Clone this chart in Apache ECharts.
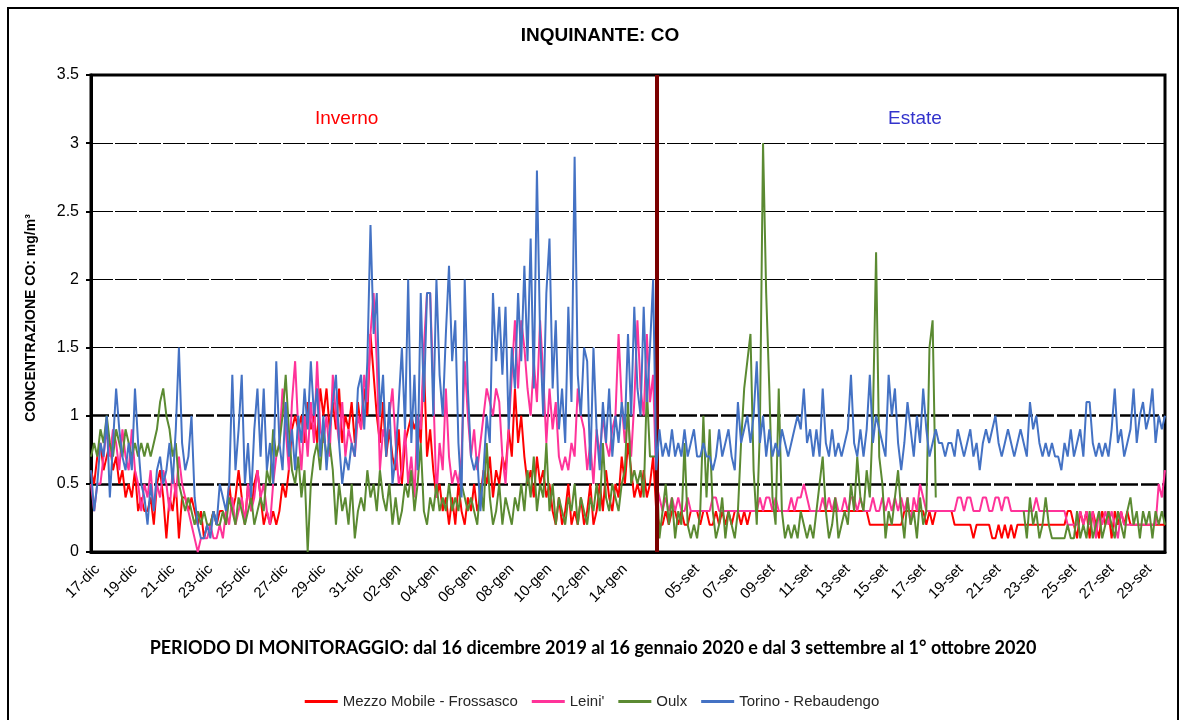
<!DOCTYPE html>
<html><head><meta charset="utf-8">
<script src="https://cdn.jsdelivr.net/npm/echarts@6/dist/echarts.min.js"></script>
<style>html,body{margin:0;padding:0;background:#fff}#c{width:1184px;height:720px}</style>
</head><body><div id="c"></div><script>
// ---- categories (4-hour samples) ----
const winterDays = ['16-dic','17-dic','18-dic','19-dic','20-dic','21-dic','22-dic','23-dic','24-dic','25-dic','26-dic','27-dic','28-dic','29-dic','30-dic','31-dic',
  '01-gen','02-gen','03-gen','04-gen','05-gen','06-gen','07-gen','08-gen','09-gen','10-gen','11-gen','12-gen','13-gen','14-gen','15-gen'];
const summerDays = ['02-set','03-set','04-set','05-set','06-set','07-set','08-set','09-set','10-set','11-set','12-set','13-set','14-set','15-set',
  '16-set','17-set','18-set','19-set','20-set','21-set','22-set','23-set','24-set','25-set','26-set','27-set','28-set','29-set'];
const hours = ['00','04','08','12','16','20'];
const winterTickLabels = ['17-dic','19-dic','21-dic','23-dic','25-dic','27-dic','29-dic','31-dic','02-gen','04-gen','06-gen','08-gen','10-gen','12-gen','14-gen'];
const summerTickLabels = ['05-set','07-set','09-set','11-set','13-set','15-set','17-set','19-set','21-set','23-set','25-set','27-set','29-set'];
const seriesNames = ['Mezzo Mobile - Frossasco', "Leini'", 'Oulx', 'Torino - Rebaudengo'];
const yTicks = [0, 0.5, 1, 1.5, 2, 2.5, 3, 3.5];

// ---- values, mg/m3 (winter: 180 samples, summer: 163 samples) ----
const frossascoWinter = [
0.6,0.5,0.7,0.8,0.6,0.7, 0.8,0.6,0.7,0.5,0.6,0.4, 0.5,0.4,0.6,0.3,0.4,0.3, 0.3,0.4,0.2,0.5,0.6,0.4, 0.1,0.4,0.3,0.5,0.1,0.4,
0.4,0.3,0.4,0.3,0.2,0.3, 0.1,0.2,0.2,0.3,0.2,0.3, 0.3,0.2,0.5,0.3,0.4,0.6, 0.4,0.2,0.5,0.3,0.5,0.6, 0.4,0.2,0.3,0.2,0.3,0.2,
0.3,0.5,0.4,0.6,0.9,1.0, 0.9,1.0,0.8,1.1,0.9,1.0, 0.8,1.2,1.0,1.2,0.9,1.1, 0.9,1.2,0.8,1.0,0.9,1.1, 0.8,1.1,0.9,1.2,1.0,1.6,
1.3,1.0,0.8,1.1,0.7,0.9, 0.7,0.6,0.9,0.5,0.8,0.9, 1.0,0.9,1.0,0.8,1.4,0.7, 0.9,0.6,0.4,0.5,0.3,0.4, 0.2,0.4,0.2,0.5,0.3,0.2,
0.4,0.3,0.5,0.3,0.4,0.6, 0.5,0.7,0.4,0.6,0.5,0.7, 0.6,0.9,0.7,1.2,0.8,1.0, 0.7,0.5,0.6,0.4,0.7,0.5, 0.6,0.4,0.5,0.3,0.2,0.4,
0.2,0.3,0.5,0.2,0.3,0.2, 0.4,0.2,0.3,0.5,0.2,0.3, 0.5,0.3,0.6,0.4,0.3,0.5, 0.4,0.7,0.5,0.8,0.6,0.4, 0.5,0.4,0.6,0.4,0.5,0.7];
const leiniWinter = [
0.5,0.3,0.5,0.5,0.7,0.9, 0.7,0.9,0.8,0.6,0.9,0.7, 0.6,0.9,0.6,0.5,0.3,0.5, 0.4,0.6,0.3,0.5,0.4,0.6, 0.5,0.3,0.6,0.4,0.7,0.5,
0.4,0.3,0.2,0.1,0.0,0.1, 0.1,0.1,0.2,0.1,0.1,0.2, 0.1,0.3,0.2,0.4,0.2,0.3, 0.4,0.2,0.5,0.3,0.4,0.6, 0.4,0.5,0.3,0.2,0.5,0.7,
0.8,1.2,0.9,0.6,1.1,1.4, 0.9,0.6,1.0,0.7,1.1,0.8, 1.4,0.9,0.8,1.0,0.7,1.3, 1.0,0.8,1.1,0.7,0.9,0.8, 0.7,1.0,0.9,1.3,1.1,1.6,
1.9,1.4,0.6,0.9,0.8,1.0, 1.2,0.8,0.5,0.6,0.9,0.5, 0.7,0.4,1.0,0.9,1.5,1.9, 1.9,1.2,0.4,0.8,0.6,1.2, 0.7,0.5,0.6,0.5,0.7,1.4,
1.0,0.7,0.9,0.6,0.8,1.0, 1.2,1.1,1.0,1.2,1.1,0.7, 0.5,0.9,1.3,1.7,1.2,1.7, 1.5,1.2,1.0,1.4,1.1,1.7, 1.3,0.8,1.2,0.9,1.1,0.7,
0.6,0.7,0.6,0.8,0.7,1.2, 1.0,0.9,0.6,0.8,0.5,0.9, 0.7,1.0,0.8,0.7,0.9,1.0, 1.6,1.1,0.8,1.0,0.7,1.1, 1.7,1.2,1.0,1.6,1.1,1.3];
const oulxWinter = [
0.7,0.8,0.7,0.9,0.8,1.0, 0.8,0.7,0.9,0.8,0.7,0.9, 0.8,0.7,0.8,0.7,0.8,0.7, 0.8,0.7,0.8,0.9,1.1,1.2, 1.0,0.9,0.7,0.8,0.5,0.4,
0.3,0.4,0.3,0.2,0.3,0.2, 0.3,0.2,0.2,0.3,0.2,0.2, 0.3,0.2,0.4,0.3,0.2,0.4, 0.3,0.2,0.3,0.4,0.2,0.3, 0.4,0.3,0.6,0.5,0.9,0.7,
0.8,1.0,1.3,0.9,0.6,0.5, 0.7,0.4,0.6,0.0,0.5,0.7, 0.8,0.6,0.9,0.7,0.8,0.6, 0.2,0.5,0.3,0.4,0.2,0.5, 0.1,0.3,0.4,0.3,0.6,0.4,
0.5,0.3,0.6,0.4,0.3,0.5, 0.2,0.4,0.2,0.3,0.5,0.4, 0.6,0.3,0.5,0.8,0.3,0.2, 0.4,0.3,0.5,0.3,0.4,0.3, 0.5,0.3,0.4,0.3,0.5,0.4,
0.3,0.4,0.3,0.2,0.5,0.3, 0.8,0.4,0.2,0.3,0.5,0.2, 0.4,0.3,0.2,0.4,0.3,0.5, 0.3,0.6,0.4,0.7,0.3,0.5, 0.4,0.8,0.3,0.5,0.2,0.4,
0.3,0.2,0.4,0.3,0.5,0.2, 0.4,0.3,0.2,0.4,0.3,0.5, 0.3,0.8,0.4,0.3,0.5,0.4, 0.3,0.5,0.6,1.1,0.5,0.6, 0.5,0.6,0.4,1.2,0.7,0.7];
const torinoWinter = [
0.6,0.3,0.5,0.8,0.7,1.0, 0.4,0.8,1.2,0.9,0.7,0.6, 0.8,0.6,1.2,0.8,0.5,0.4, 0.2,0.5,0.3,0.6,0.7,0.5, 0.6,0.8,0.5,0.9,1.5,0.8,
0.6,0.7,1.0,0.4,0.2,0.1, 0.1,0.2,0.1,0.3,0.2,0.5, 0.4,0.3,0.5,1.3,0.6,0.9, 1.3,0.5,0.8,0.4,0.9,1.2, 0.7,1.2,0.6,0.8,0.5,1.4,
0.8,0.6,1.1,0.7,0.9,0.6, 1.0,0.8,1.2,0.9,1.4,1.0, 1.2,0.7,1.0,0.6,0.9,1.1, 1.3,0.8,0.5,0.7,0.6,0.8, 0.7,1.2,1.3,0.9,1.4,2.4,
1.6,1.9,1.0,1.3,0.7,1.1, 0.5,0.7,1.1,1.5,0.9,2.0, 0.8,1.3,0.6,1.9,1.1,1.9, 1.9,1.0,2.0,1.3,1.0,1.6, 2.1,1.4,1.7,0.8,0.4,2.0,
1.2,0.7,0.6,0.7,0.3,0.6, 1.0,0.8,1.9,1.4,1.8,1.3, 1.8,0.9,1.5,1.2,1.9,1.4, 2.1,1.4,2.3,1.2,2.8,1.6, 1.0,1.9,2.3,1.2,1.7,0.9,
1.2,0.8,1.8,1.1,2.9,1.3, 1.0,1.5,1.4,0.6,1.5,0.9, 0.6,1.1,0.8,1.2,0.7,1.0, 0.8,1.1,0.9,1.6,1.0,1.8, 1.2,1.0,1.8,1.1,1.5,2.0];

const frossascoSummer = [
0.3,0.2,0.2,0.3,0.2,0.3, 0.3,0.2,0.3,0.2,0.2,0.3, 0.3,0.3,0.2,0.3,0.3,0.2, 0.2,0.3,0.2,0.3,0.2,0.3, 0.2,0.3,0.3,0.2,0.3,0.2,
0.3,0.3,0.3,0.3,0.3,0.3, 0.3,0.3,0.3,0.3,0.3,0.3, 0.3,0.3,0.3,0.3,0.3,0.3, 0.3,0.3,0.3,0.3,0.3,0.3, 0.3,0.3,0.3,0.3,0.3,0.3,
0.3,0.3,0.3,0.3,0.3,0.3, 0.3,0.3,0.2,0.2,0.2,0.2, 0.2,0.2,0.2,0.2,0.2,0.2, 0.2,0.3,0.3,0.3,0.3,0.3, 0.3,0.3,0.2,0.3,0.2,0.3,
0.3,0.3,0.3,0.3,0.3,0.2, 0.2,0.2,0.2,0.2,0.2,0.1, 0.2,0.2,0.2,0.2,0.2,0.1, 0.1,0.2,0.1,0.2,0.1,0.2, 0.1,0.2,0.2,0.2,0.2,0.2,
0.2,0.2,0.2,0.2,0.2,0.2, 0.2,0.2,0.2,0.2,0.2,0.3, 0.3,0.2,0.1,0.3,0.2,0.3, 0.1,0.3,0.2,0.1,0.3,0.2, 0.3,0.1,0.3,0.2,0.3,0.2,
0.3,0.2,0.2,0.2,0.2,0.2, 0.2,0.2,0.2,0.2,0.2,0.2, 0.2];
const leiniSummer = [
0.5,0.4,0.3,0.4,0.3,0.4, 0.3,0.4,0.3,0.3,0.4,0.3, 0.3,0.3,0.3,0.3,0.3,0.3, 0.4,0.4,0.3,0.3,0.3,0.3, 0.3,0.3,0.3,0.3,0.3,0.3,
0.3,0.3,0.3,0.4,0.3,0.4, 0.4,0.3,0.4,0.3,0.3,0.3, 0.3,0.4,0.3,0.4,0.4,0.5, 0.4,0.3,0.3,0.3,0.3,0.4, 0.3,0.4,0.3,0.4,0.3,0.3,
0.4,0.3,0.4,0.4,0.3,0.4, 0.3,0.3,0.3,0.4,0.3,0.3, 0.4,0.3,0.4,0.3,0.4,0.3, 0.4,0.3,0.4,0.2,0.4,0.3, 0.5,0.4,0.3,0.3,0.3,0.3,
0.3,0.3,0.3,0.3,0.3,0.3, 0.4,0.4,0.3,0.4,0.4,0.3, 0.3,0.3,0.4,0.4,0.3,0.3, 0.4,0.4,0.3,0.4,0.4,0.3, 0.3,0.3,0.3,0.3,0.3,0.3,
0.3,0.4,0.3,0.3,0.3,0.3, 0.3,0.3,0.3,0.3,0.3,0.2, 0.2,0.2,0.2,0.3,0.2,0.3, 0.2,0.3,0.1,0.3,0.2,0.3, 0.2,0.3,0.2,0.1,0.3,0.2,
0.2,0.2,0.2,0.2,0.2,0.2, 0.2,0.2,0.2,0.2,0.5,0.4, 0.6];
const oulxSummer = [
0.7,0.1,0.3,0.5,0.2,0.4, 0.1,0.3,0.2,0.8,0.2,0.1, 0.2,0.1,0.3,1.0,0.4,0.9, 0.3,0.1,0.2,0.4,0.1,0.3, 0.2,0.1,0.3,0.8,1.2,1.4,
1.6,0.6,0.2,0.9,3.0,1.9, 1.2,0.4,0.2,1.2,0.3,0.1, 0.2,0.1,0.2,0.1,0.3,0.2, 0.1,0.2,0.1,0.3,0.5,0.7, 0.3,0.1,0.2,0.4,0.1,0.2,
0.3,0.2,0.5,0.3,0.7,0.4, 0.3,0.6,0.4,1.0,2.2,0.7, 0.5,0.1,0.3,0.2,0.4,0.6, 0.3,0.1,0.4,0.2,0.3,0.1, 0.4,0.2,0.3,1.5,1.7,0.4,
null,null,null,null,null,null, null,null,null,null,null,null, null,null,null,null,null,null, null,null,null,null,null,null, null,null,null,0.3,0.1,0.4,
0.2,0.3,0.1,0.2,0.4,0.2, 0.1,0.1,0.1,0.1,0.1,0.2, 0.1,0.1,0.3,0.1,0.2,0.1, 0.3,0.1,0.2,0.3,0.1,0.2, 0.3,0.2,0.1,0.3,0.2,0.1,
0.3,0.4,0.2,0.3,0.1,0.3, 0.2,0.3,0.1,0.3,0.2,0.3, 0.2];
const torinoSummer = [
0.6,0.9,0.7,0.8,0.7,0.9, 0.7,0.8,0.7,0.9,0.7,0.8, 0.9,0.7,0.7,0.8,0.7,0.7, 0.6,0.7,0.9,0.7,0.8,0.9, 0.7,0.6,1.1,0.8,0.9,1.0,
0.8,1.0,1.4,0.8,1.0,0.7, 0.9,0.7,0.8,0.7,0.9,0.8, 0.7,0.8,0.9,1.0,0.9,1.2, 0.8,0.9,0.7,0.9,0.7,1.2, 0.8,0.7,0.9,0.7,0.8,0.7,
0.8,0.9,1.3,0.8,0.7,0.9, 0.7,0.9,1.3,0.8,1.0,0.9, 0.8,0.7,1.3,1.0,1.2,0.8, 0.6,0.8,1.1,0.9,0.7,1.0, 0.8,1.2,0.9,0.7,0.8,0.9,
0.8,0.8,0.7,0.8,0.8,0.7, 0.9,0.8,0.7,0.8,0.9,0.7, 0.8,0.6,0.8,0.9,0.8,0.9, 1.0,0.8,0.7,0.8,0.9,0.8, 0.7,0.8,0.9,0.8,0.7,1.1,
0.9,1.0,0.8,0.7,0.8,0.7, 0.8,0.7,0.7,0.6,0.8,0.7, 0.9,0.7,0.8,0.9,0.7,1.1, 1.1,0.8,0.7,0.8,0.7,0.8, 0.7,0.9,1.2,0.8,0.9,0.7,
0.8,0.9,1.2,0.8,1.0,1.1, 0.9,1.0,1.2,0.8,1.0,0.9, 1.0];

// ---- build category axis ----
function buildCats(days, startHourIdx, count) {
  const out = []; let d = 0, h = startHourIdx;
  while (out.length < count) { out.push(days[d] + ' ' + hours[h]); h++; if (h === hours.length) { h = 0; d++; } }
  return out;
}
const categories = buildCats(winterDays, 4, frossascoWinter.length).concat(buildCats(summerDays, 5, frossascoSummer.length));
const tickLabelSet = new Set(winterTickLabels.concat(summerTickLabels));
const splitIndex = frossascoWinter.length;

const seriesData = [
  frossascoWinter.concat(frossascoSummer),
  leiniWinter.concat(leiniSummer),
  oulxWinter.concat(oulxSummer),
  torinoWinter.concat(torinoSummer)
];
const colors = ['#FF0000', '#FF3399', '#5B8A32', '#4472C4'];
const FONT = "'Liberation Sans', Arial, sans-serif";

const thinColors = yTicks.map(v => (v >= 1.5 && v <= 3) ? '#000' : 'rgba(0,0,0,0)');
const thickColors = yTicks.map(v => (v === 0.5 || v === 1) ? '#000' : 'rgba(0,0,0,0)');

const chart = echarts.init(document.getElementById('c'), null, {renderer: 'canvas'});
const series = seriesNames.map((n, k) => ({
  name: n, type: 'line', data: seriesData[k], symbol: 'none', showSymbol: false,
  connectNulls: false, lineStyle: {color: colors[k], width: 2}, itemStyle: {color: colors[k]},
  emphasis: {disabled: true}, silent: true, z: 2 + k
}));
series.push({
  name: 'sep', type: 'line', data: [], silent: true, z: 20,
  markLine: {silent: true, symbol: ['none', 'none'], label: {show: false}, animation: false,
    lineStyle: {color: '#7B0000', width: 4, type: 'solid'},
    data: [{xAxis: categories[splitIndex]}]}
});

chart.setOption({
  animation: false,
  backgroundColor: '#fff',
  textStyle: {fontFamily: FONT},
  grid: {left: 91, right: 19, top: 75, bottom: 168, show: true, borderColor: '#000', borderWidth: 3,
    backgroundColor: '#fff', containLabel: false, outerBoundsMode: 'none'},
  legend: {
    data: seriesNames, bottom: 6, left: 'center', icon: 'rect', itemWidth: 33, itemHeight: 3, itemGap: 14,
    textStyle: {fontFamily: FONT, fontSize: 15, color: '#262626'}, selectedMode: false
  },
  xAxis: {
    type: 'category', data: categories, boundaryGap: false,
    axisLine: {lineStyle: {color: '#000', width: 3}},
    axisTick: {show: false},
    splitLine: {show: false},
    axisLabel: {
      interval: (idx, val) => val.split(' ')[1] === '00' && tickLabelSet.has(val.split(' ')[0]),
      formatter: v => v.split(' ')[0],
      rotate: 45, margin: 15, fontSize: 15, color: '#000', fontFamily: FONT
    }
  },
  yAxis: [{
    type: 'value', min: 0, max: 3.5, interval: 0.5,
    axisLine: {show: true, lineStyle: {color: '#000', width: 3}},
    axisTick: {show: true, length: 5, lineStyle: {color: '#000', width: 2}},
    axisLabel: {fontSize: 16, color: '#000', margin: 12, fontFamily: FONT},
    splitLine: {show: true, lineStyle: {color: thinColors, width: 1, type: [22, 2]}}
  }, {
    type: 'value', min: 0, max: 3.5, interval: 0.5, position: 'left',
    axisLine: {show: false}, axisTick: {show: false}, axisLabel: {show: false},
    splitLine: {show: true, lineStyle: {color: thickColors, width: 2.5, type: [18, 3]}}
  }],
  series: series,
  graphic: [
    {type: 'rect', silent: true, shape: {x: 8, y: 8, width: 1170, height: 760}, style: {fill: 'none', stroke: '#000', lineWidth: 2}},
    {type: 'text', silent: true, x: 600, y: 36, style: {text: 'INQUINANTE: CO', font: "bold 19px " + FONT, fill: '#000', align: 'center', verticalAlign: 'middle'}},
    {type: 'text', silent: true, x: 315, y: 119, style: {text: 'Inverno', font: "19px " + FONT, fill: '#FF0000', align: 'left', verticalAlign: 'middle'}},
    {type: 'text', silent: true, x: 888, y: 119, style: {text: 'Estate', font: "19px " + FONT, fill: '#3333CC', align: 'left', verticalAlign: 'middle'}},
    {type: 'text', silent: true, x: 31, y: 318, rotation: Math.PI / 2, style: {text: 'CONCENTRAZIONE CO: mg/m³', font: "bold 14px " + FONT, fill: '#000', align: 'center', verticalAlign: 'middle'}},
    {type: 'text', silent: true, x: 593, y: 648, style: {text: 'PERIODO DI MONITORAGGIO: dal 16 dicembre 2019 al 16 gennaio 2020 e dal 3 settembre al 1° ottobre 2020', font: "bold 18px Lato, 'Open Sans', sans-serif", fill: '#000', align: 'center', verticalAlign: 'middle'}}
  ]
});
</script></body></html>
